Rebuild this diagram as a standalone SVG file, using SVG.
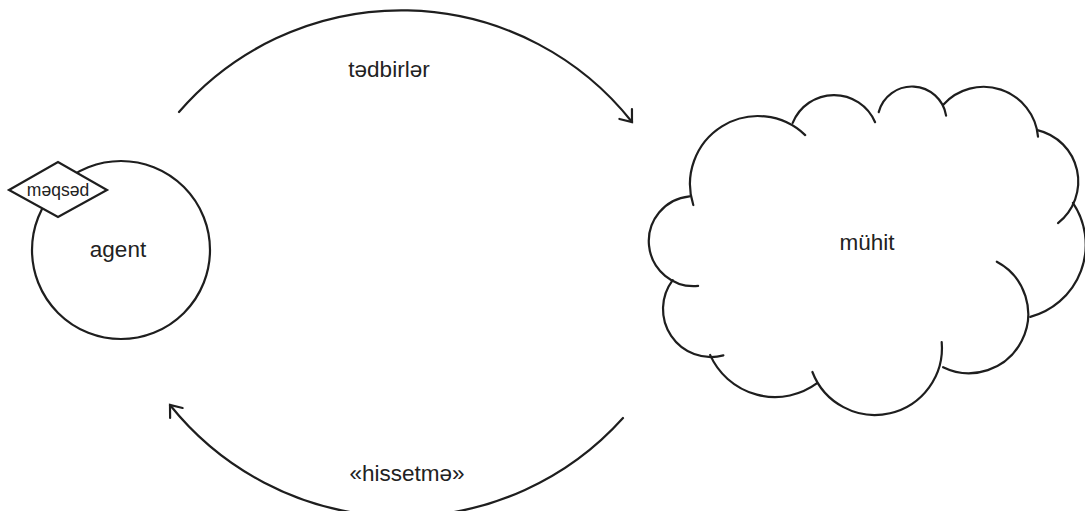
<svg xmlns="http://www.w3.org/2000/svg" width="1085" height="511" viewBox="0 0 1085 511">
<style>
.ln{fill:none;stroke:#1e1e1e;stroke-width:2.2;stroke-linecap:round}
.shape{fill:#ffffff;stroke:#1e1e1e;stroke-width:2.2}
.t{font-family:"Liberation Sans",Arial,sans-serif;font-size:22.5px;fill:#222;text-anchor:middle}
.ts{font-family:"Liberation Sans",Arial,sans-serif;font-size:17.5px;fill:#222;text-anchor:middle}
</style>
<defs>
<marker id="arr" markerUnits="userSpaceOnUse" markerWidth="30" markerHeight="30" viewBox="-15 -15 30 30" refX="0" refY="0" orient="auto">
<path d="M -10.2,-8 L 0,0 L -10.2,8" fill="none" stroke="#1e1e1e" stroke-width="2.2" stroke-linecap="round" stroke-linejoin="miter"/>
</marker>
</defs>
<rect width="1085" height="511" fill="#ffffff"/>
<g id="connectors">
<path class="ln" d="M 179,112 A 294 294 0 0 1 632,122" marker-end="url(#arr)"/>
<path class="ln" d="M 623,418 A 297 297 0 0 1 170,405" marker-end="url(#arr)"/>
<text class="t" x="389" y="77">tədbirlər</text>
<text class="t" x="407" y="481">«hissetmə»</text>
</g>
<g id="agent">
<circle class="shape" cx="121" cy="250" r="89"/>
<text class="t" x="118" y="257">agent</text>
</g>
<g id="meqsed">
<polygon class="shape" points="9,190 58,162 107,190 58,217"/>
<text class="ts" x="58" y="196">məqsəd</text>
</g>
<g id="muhit">
<path d="M 693.3,205 A 68 68 0 0 1 805.2,135.1 A 44.6 44.6 0 0 1 875.1,122.2 A 34.5 34.5 0 0 1 946.1,115.6 A 54.6 54.6 0 0 1 1038,136.6 A 52.8 52.8 0 0 1 1058,223.1 A 74.7 74.7 0 0 1 1030.3,316.9 A 59.2 59.2 0 0 1 943.1,367.2 A 67 67 0 0 1 812.4,372 A 71 71 0 0 1 710.1,354.9 A 48 48 0 0 1 672.7,280.1 A 45 45 0 0 1 689.5,196.3 Z" fill="#ffffff" stroke="none"/>
<g class="ln">
<path d="M 693.3,205 A 68 68 0 0 1 805.2,135.1"/>
<path d="M 792.7,122.9 A 44.6 44.6 0 0 1 875.1,122.2"/>
<path d="M 878.7,112.1 A 34.5 34.5 0 0 1 946.1,115.6"/>
<path d="M 943,104.9 A 54.6 54.6 0 0 1 1038,136.6"/>
<path d="M 1037.4,130.1 A 52.8 52.8 0 0 1 1058,223.1"/>
<path d="M 1072.9,202.9 A 74.7 74.7 0 0 1 1030.3,316.9"/>
<path d="M 996.8,261.7 A 59.2 59.2 0 0 1 943.1,367.2"/>
<path d="M 941.7,342.2 A 67 67 0 0 1 812.4,372"/>
<path d="M 817.1,383.2 A 71 71 0 0 1 710.1,354.9"/>
<path d="M 723.4,355.4 A 48 48 0 0 1 672.7,280.1"/>
<path d="M 698.1,285.9 A 45 45 0 0 1 689.5,196.3"/>
</g>
<text class="t" x="867" y="250">mühit</text>
</g>
</svg>
